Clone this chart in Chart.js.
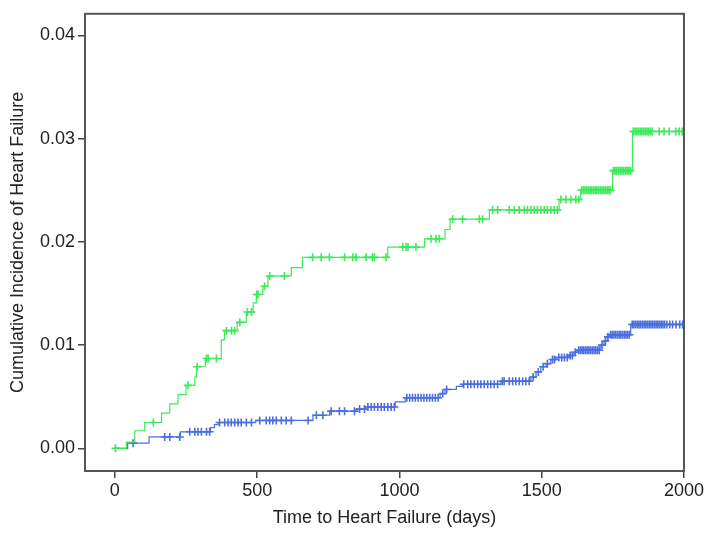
<!DOCTYPE html>
<html>
<head>
<meta charset="utf-8">
<script src="https://cdn.jsdelivr.net/npm/chart.js@4.4.0/dist/chart.umd.min.js"></script>
<style>
  html, body { margin: 0; padding: 0; background: #ffffff; }
  #wrap { width: 706px; height: 539px; position: relative; }
</style>
</head>
<body>
<div id="wrap"><canvas id="c" width="706" height="539"></canvas></div>
<script>
// ---- Data ----
const xTicks = [0, 500, 1000, 1500, 2000];
const yTicks = [0.00, 0.01, 0.02, 0.03, 0.04];

// Green group: step times (days) and cumulative incidence from that time on
const greenTimes = [0, 40, 70, 105, 164, 193, 222, 250, 281, 287, 318, 374, 385, 430, 462, 486, 497, 520, 538, 620, 659, 959, 1088, 1160, 1178, 1316, 1561, 1637, 1749, 1819, 2000];
const greenValues = [0, 0.0006, 0.0017, 0.0025, 0.0034, 0.0043, 0.0052, 0.0061, 0.0069, 0.0079, 0.0087, 0.0105, 0.0114, 0.0122, 0.0132, 0.0141, 0.0149, 0.0157, 0.0167, 0.0175, 0.0185, 0.0195, 0.0203, 0.0212, 0.0222, 0.0231, 0.0241, 0.0250, 0.0269, 0.0307, 0.0307];
const greenCensored = [2, 135, 257, 289, 322, 328, 357, 392, 410, 421, 439, 466, 480, 499, 503, 526, 544, 596, 695, 725, 754, 807, 836, 848, 883, 905, 912, 953, 1012, 1023, 1030, 1058, 1111, 1129, 1140, 1187, 1222, 1281, 1292, 1327, 1345, 1386, 1404, 1421, 1439, 1450, 1462, 1474, 1485, 1497, 1509, 1520, 1532, 1544, 1555, 1567, 1585, 1603, 1620, 1630, 1640, 1646, 1652, 1658, 1664, 1670, 1676, 1682, 1688, 1694, 1700, 1706, 1712, 1718, 1724, 1730, 1736, 1742, 1752, 1758, 1764, 1770, 1776, 1782, 1788, 1794, 1800, 1806, 1812, 1822, 1828, 1834, 1840, 1846, 1852, 1858, 1864, 1870, 1876, 1882, 1888, 1913, 1930, 1948, 1971, 1983, 1994];

// Blue group
const blueTimes = [0, 45, 120, 230, 336, 350, 363, 495, 696, 755, 848, 880, 985, 1020, 1143, 1160, 1200, 1222, 1357, 1462, 1480, 1497, 1515, 1532, 1550, 1596, 1614, 1626, 1708, 1719, 1731, 1737, 1813, 2000];
const blueValues = [0, 0.0005, 0.0011, 0.0016, 0.0020, 0.0023, 0.0025, 0.0027, 0.0032, 0.0036, 0.0038, 0.0040, 0.0045, 0.0049, 0.0053, 0.0057, 0.0060, 0.0062, 0.0065, 0.0069, 0.0074, 0.0079, 0.0082, 0.0086, 0.0088, 0.0090, 0.0093, 0.0095, 0.0100, 0.0104, 0.0108, 0.0110, 0.0120, 0.0120];
const blueCensored = [64, 175, 193, 228, 263, 281, 292, 304, 322, 333, 368, 386, 398, 409, 421, 433, 444, 462, 480, 509, 532, 544, 555, 567, 585, 602, 620, 679, 708, 731, 760, 789, 807, 842, 860, 877, 889, 901, 912, 924, 936, 947, 959, 971, 982, 1026, 1036, 1046, 1056, 1066, 1076, 1086, 1096, 1106, 1116, 1126, 1136, 1152, 1166, 1226, 1240, 1251, 1263, 1275, 1286, 1298, 1310, 1321, 1333, 1345, 1362, 1368, 1386, 1398, 1409, 1421, 1433, 1444, 1456, 1470, 1488, 1505, 1520, 1538, 1545, 1560, 1570, 1580, 1590, 1600, 1608, 1618, 1630, 1636, 1642, 1648, 1654, 1660, 1666, 1672, 1678, 1684, 1690, 1696, 1702, 1712, 1724, 1733, 1742, 1748, 1754, 1760, 1766, 1772, 1778, 1784, 1790, 1796, 1802, 1808, 1818, 1824, 1830, 1836, 1842, 1848, 1854, 1860, 1866, 1872, 1878, 1884, 1890, 1896, 1902, 1908, 1914, 1920, 1926, 1932, 1940, 1950, 1960, 1972, 1985, 1995];

const greenColor = '#3ee85a';
const blueColor = '#4a6ee0';

// ---- Build datasets from arrays ----
function steps(times, values) {
  return times.map((t, i) => ({ x: t, y: values[i] }));
}
function stepValueAt(times, values, t) {
  let v = values[0];
  for (let i = 0; i < times.length; i++) {
    if (times[i] <= t) v = values[i]; else break;
  }
  return v;
}
function censorPoints(ct, times, values) {
  return ct.map(t => ({ x: t, y: stepValueAt(times, values, t) }));
}

const boxPlugin = {
  id: 'box',
  afterDraw(chart) {
    const a = chart.chartArea, ctx = chart.ctx;
    ctx.save();
    ctx.strokeStyle = '#555555';
    ctx.lineWidth = 2;
    ctx.strokeRect(a.left, a.top, a.right - a.left, a.bottom - a.top);
    ctx.restore();
  }
};

const fontFamily = '"Liberation Sans", Arial, Helvetica, sans-serif';

new Chart(document.getElementById('c'), {
  type: 'line',
  data: {
    datasets: [
      { data: steps(greenTimes, greenValues), borderColor: greenColor, borderWidth: 1.2, stepped: 'before', pointRadius: 0, fill: false },
      { data: steps(blueTimes, blueValues), borderColor: blueColor, borderWidth: 1.2, stepped: 'before', pointRadius: 0, fill: false },
      { data: censorPoints(greenCensored, greenTimes, greenValues), showLine: false, pointStyle: 'cross', pointRadius: 4, borderColor: greenColor, borderWidth: 1.6, backgroundColor: greenColor },
      { data: censorPoints(blueCensored, blueTimes, blueValues), showLine: false, pointStyle: 'cross', pointRadius: 4, borderColor: blueColor, borderWidth: 1.6, backgroundColor: blueColor }
    ]
  },
  options: {
    responsive: false,
    animation: false,
    devicePixelRatio: 1,
    layout: { padding: { top: 12, right: 21, left: 7, bottom: 10 } },
    plugins: { legend: { display: false }, tooltip: { enabled: false } },
    scales: {
      x: {
        type: 'linear',
        min: -105, max: 2000,
        afterBuildTicks: s => { s.ticks = xTicks.map(v => ({ value: v })); },
        afterFit: s => { s.height = 58; },
        border: { display: false },
        grid: { drawOnChartArea: false, drawTicks: true, tickLength: 7, color: '#444444', lineWidth: 1.5 },
        ticks: { color: '#222222', font: { family: fontFamily, size: 18 }, padding: 2, maxRotation: 0, autoSkip: false, callback: v => String(v) },
        title: { display: true, text: 'Time to Heart Failure (days)', color: '#222222', font: { family: fontFamily, size: 18 }, padding: { top: 2, bottom: 0 } }
      },
      y: {
        type: 'linear',
        min: -0.0022, max: 0.0421,
        afterBuildTicks: s => { s.ticks = yTicks.map(v => ({ value: v })); },
        afterFit: s => { s.width = 78; },
        border: { display: false },
        grid: { drawOnChartArea: false, drawTicks: true, tickLength: 7, color: '#444444', lineWidth: 1.5 },
        ticks: { color: '#222222', font: { family: fontFamily, size: 18 }, padding: 3, autoSkip: false, callback: v => Number(v).toFixed(2) },
        title: { display: true, text: 'Cumulative Incidence of Heart Failure', color: '#222222', font: { family: fontFamily, size: 18 }, padding: { top: 0, bottom: 4 } }
      }
    }
  },
  plugins: [boxPlugin]
});
</script>
</body>
</html>
